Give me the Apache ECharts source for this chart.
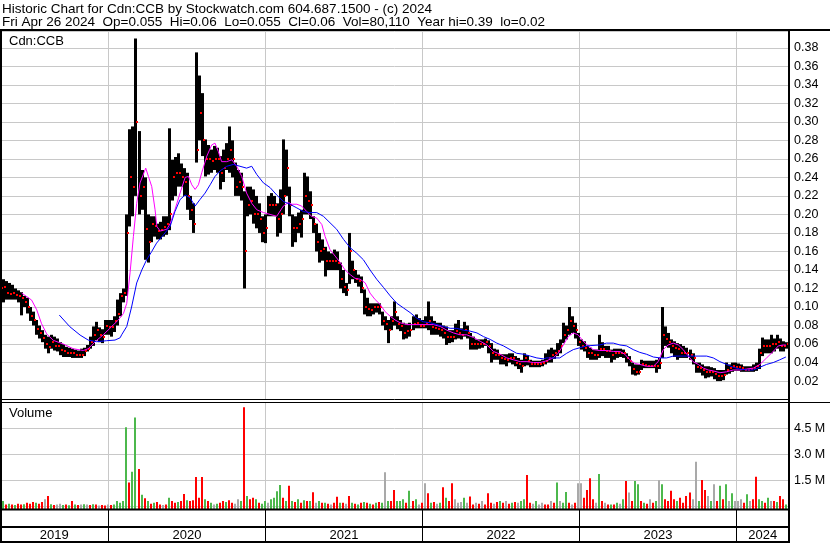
<!DOCTYPE html>
<html>
<head>
<meta charset="utf-8">
<script src="https://cdn.jsdelivr.net/npm/echarts@6/dist/echarts.min.js"></script>
<style>
html, body { margin: 0; padding: 0; background: #fff; }
#main { width: 830px; height: 543px; }
</style>
</head>
<body>
<div id="main"></div>
<script>
// weekly bars, first bar Fri Apr 26 2019
var startDate = Date.UTC(2019, 3, 26);
var DAY = 86400000;
var years = [2019, 2020, 2021, 2022, 2023, 2024];

var lows = [
  0.095,0.105,0.108,0.108,0.108,0.108,0.105,0.091,0.1,0.093,
  0.085,0.08,0.07,0.066,0.062,0.055,0.05,0.055,0.053,0.052,
  0.048,0.046,0.046,0.046,0.045,0.045,0.045,0.045,0.047,0.052,
  0.055,0.058,0.064,0.062,0.061,0.07,0.07,0.068,0.073,0.08,
  0.09,0.105,0.112,0.187,0.198,0.22,0.2,0.205,0.151,0.148,
  0.17,0.176,0.173,0.173,0.176,0.178,0.183,0.215,0.22,0.23,
  0.23,0.22,0.205,0.194,0.18,0.256,0.28,0.263,0.241,0.243,
  0.245,0.248,0.245,0.227,0.235,0.248,0.245,0.24,0.22,0.22,
  0.215,0.12,0.198,0.2,0.19,0.185,0.18,0.17,0.169,0.198,
  0.198,0.198,0.176,0.18,0.2,0.22,0.198,0.165,0.17,0.18,
  0.175,0.2,0.2,0.195,0.18,0.16,0.148,0.15,0.133,0.14,
  0.14,0.14,0.14,0.12,0.115,0.112,0.125,0.13,0.126,0.122,
  0.115,0.092,0.09,0.09,0.092,0.094,0.092,0.08,0.075,0.061,
  0.075,0.08,0.076,0.074,0.065,0.066,0.068,0.075,0.077,0.077,
  0.077,0.077,0.075,0.07,0.07,0.07,0.068,0.066,0.059,0.061,
  0.062,0.065,0.066,0.065,0.068,0.066,0.054,0.054,0.054,0.055,
  0.056,0.058,0.05,0.04,0.043,0.043,0.038,0.038,0.036,0.04,
  0.038,0.036,0.033,0.029,0.036,0.037,0.035,0.035,0.035,0.035,
  0.036,0.038,0.04,0.04,0.044,0.047,0.05,0.061,0.065,0.07,
  0.072,0.066,0.058,0.054,0.052,0.045,0.043,0.043,0.043,0.045,
  0.047,0.045,0.045,0.04,0.043,0.045,0.046,0.045,0.04,0.036,
  0.027,0.026,0.027,0.032,0.034,0.034,0.034,0.034,0.029,0.033,
  0.045,0.058,0.056,0.05,0.046,0.043,0.045,0.045,0.045,0.043,
  0.038,0.029,0.029,0.026,0.023,0.024,0.025,0.022,0.02,0.02,
  0.021,0.027,0.028,0.03,0.031,0.031,0.03,0.03,0.03,0.03,
  0.03,0.031,0.033,0.047,0.05,0.05,0.05,0.052,0.055,0.052,
  0.052,0.055
];
var highs = [
  0.141,0.13,0.128,0.126,0.124,0.12,0.118,0.116,0.112,0.11,
  0.1,0.095,0.086,0.08,0.075,0.07,0.068,0.07,0.068,0.066,
  0.062,0.06,0.057,0.056,0.055,0.054,0.053,0.055,0.056,0.059,
  0.068,0.079,0.084,0.078,0.076,0.086,0.086,0.086,0.09,0.108,
  0.115,0.12,0.2,0.292,0.295,0.39,0.29,0.248,0.24,0.2,
  0.198,0.198,0.19,0.192,0.198,0.198,0.293,0.259,0.262,0.266,
  0.255,0.25,0.245,0.22,0.212,0.375,0.35,0.331,0.281,0.275,
  0.27,0.274,0.272,0.263,0.27,0.277,0.295,0.28,0.256,0.248,
  0.245,0.225,0.23,0.23,0.227,0.22,0.212,0.198,0.2,0.22,
  0.223,0.22,0.212,0.227,0.281,0.27,0.23,0.2,0.198,0.202,
  0.205,0.245,0.241,0.225,0.198,0.19,0.18,0.173,0.165,0.16,
  0.158,0.162,0.16,0.148,0.14,0.126,0.18,0.15,0.14,0.135,
  0.133,0.119,0.11,0.104,0.104,0.104,0.104,0.095,0.09,0.086,
  0.09,0.106,0.09,0.086,0.083,0.082,0.083,0.09,0.092,0.088,
  0.086,0.09,0.106,0.09,0.085,0.083,0.083,0.08,0.079,0.075,
  0.075,0.082,0.086,0.077,0.084,0.08,0.072,0.068,0.065,0.065,
  0.065,0.066,0.064,0.061,0.055,0.054,0.049,0.049,0.049,0.05,
  0.05,0.047,0.045,0.043,0.05,0.048,0.043,0.042,0.042,0.042,
  0.043,0.05,0.054,0.056,0.054,0.061,0.065,0.083,0.08,0.1,
  0.09,0.083,0.072,0.065,0.063,0.058,0.056,0.054,0.054,0.07,
  0.062,0.058,0.058,0.054,0.055,0.055,0.055,0.054,0.05,0.047,
  0.04,0.038,0.038,0.043,0.042,0.042,0.042,0.042,0.043,0.045,
  0.1,0.079,0.072,0.065,0.063,0.061,0.06,0.058,0.056,0.054,
  0.05,0.04,0.04,0.038,0.036,0.036,0.035,0.034,0.032,0.032,
  0.032,0.04,0.038,0.04,0.04,0.039,0.038,0.036,0.036,0.036,
  0.038,0.04,0.055,0.067,0.065,0.065,0.07,0.066,0.07,0.066,
  0.063,0.062
];
var closes = [
  0.12,0.122,0.115,0.114,0.115,0.113,0.112,0.11,0.105,0.1,
  0.09,0.086,0.076,0.072,0.066,0.06,0.057,0.062,0.058,0.058,
  0.054,0.052,0.05,0.05,0.05,0.048,0.048,0.048,0.052,0.055,
  0.062,0.07,0.075,0.07,0.068,0.08,0.078,0.078,0.085,0.092,
  0.112,0.115,0.18,0.24,0.23,0.3,0.22,0.23,0.184,0.17,
  0.19,0.188,0.182,0.183,0.186,0.19,0.2,0.24,0.245,0.245,
  0.24,0.235,0.22,0.205,0.19,0.27,0.31,0.28,0.26,0.26,
  0.258,0.26,0.26,0.245,0.25,0.26,0.27,0.26,0.23,0.235,
  0.23,0.16,0.21,0.215,0.2,0.2,0.195,0.18,0.185,0.21,
  0.21,0.21,0.195,0.2,0.22,0.25,0.21,0.185,0.185,0.19,
  0.195,0.22,0.215,0.21,0.19,0.17,0.16,0.163,0.15,0.15,
  0.15,0.15,0.148,0.13,0.122,0.118,0.16,0.14,0.13,0.128,
  0.12,0.1,0.098,0.097,0.1,0.1,0.1,0.085,0.082,0.075,
  0.085,0.095,0.082,0.08,0.072,0.074,0.075,0.082,0.083,0.08,
  0.08,0.083,0.085,0.078,0.077,0.076,0.075,0.072,0.068,0.068,
  0.068,0.074,0.072,0.07,0.075,0.072,0.06,0.06,0.06,0.06,
  0.06,0.062,0.058,0.05,0.048,0.048,0.045,0.044,0.043,0.045,
  0.045,0.04,0.038,0.036,0.045,0.042,0.038,0.038,0.038,0.038,
  0.04,0.042,0.045,0.048,0.05,0.053,0.058,0.07,0.075,0.085,
  0.08,0.075,0.062,0.058,0.056,0.05,0.05,0.048,0.048,0.055,
  0.055,0.052,0.052,0.048,0.05,0.05,0.05,0.05,0.045,0.042,
  0.033,0.03,0.03,0.038,0.037,0.036,0.036,0.036,0.036,0.04,
  0.07,0.065,0.062,0.058,0.056,0.055,0.05,0.05,0.05,0.048,
  0.045,0.035,0.034,0.032,0.03,0.03,0.03,0.028,0.026,0.026,
  0.027,0.032,0.034,0.036,0.035,0.035,0.034,0.032,0.032,0.033,
  0.034,0.036,0.05,0.058,0.058,0.058,0.06,0.06,0.062,0.058,
  0.058,0.06
];

// volume in millions, direction g = up, r = down, n = unchanged
var volumes = [
  1.1,0.3,0.1,0.15,0.1,0.08,0.15,0.1,0.12,0.2,
  0.15,0.25,0.2,0.15,0.25,0.4,0.6,0.12,0.08,0.1,
  0.15,0.08,0.1,0.06,0.3,0.1,0.08,0.1,0.12,0.1,
  0.08,0.12,0.1,0.05,0.08,0.05,0.1,0.08,0.1,0.3,
  0.2,0.3,4.56,1.37,2.0,5.13,2.15,0.66,0.46,0.3,
  0.15,0.2,0.25,0.1,0.08,0.1,0.5,0.3,0.2,0.25,
  0.3,0.71,0.35,0.3,0.35,1.69,0.5,1.69,0.4,0.3,
  0.2,0.1,0.15,0.2,0.3,0.25,0.35,0.2,0.15,0.4,
  0.3,5.71,0.6,0.4,0.5,0.4,0.2,0.15,0.3,0.2,
  0.4,0.5,0.87,1.23,0.5,0.3,1.19,0.3,0.25,0.4,
  0.2,0.35,0.3,0.3,0.81,0.2,0.3,0.2,0.2,0.15,
  0.1,0.2,0.55,0.2,0.2,0.15,0.6,0.2,0.15,0.1,
  0.2,0.25,0.2,0.15,0.1,0.2,0.25,0.2,1.96,0.3,
  0.3,0.94,0.3,0.3,0.4,0.2,0.9,0.3,0.4,0.1,
  0.2,1.33,0.75,0.2,0.25,0.15,0.2,1.1,0.5,0.3,
  1.33,0.4,0.2,0.25,0.5,0.2,0.56,0.1,0.2,0.15,
  0.3,0.1,0.75,0.2,0.15,0.25,0.3,0.2,0.3,0.15,
  0.2,0.25,0.2,0.3,0.4,1.81,0.2,0.15,0.3,0.1,
  0.2,0.1,0.1,0.3,0.2,1.38,0.3,0.2,0.83,0.2,
  0.1,0.2,1.33,1.33,0.5,0.94,1.62,0.4,0.2,1.86,
  0.3,0.2,0.1,0.1,0.1,0.2,0.15,0.4,1.46,0.8,
  0.3,1.46,1.27,0.3,0.2,0.15,0.4,0.2,0.3,1.5,
  1.27,0.4,0.3,0.9,0.4,0.3,0.5,0.2,0.6,0.8,
  0.4,2.57,0.3,1.52,0.94,0.6,0.3,1.27,0.3,1.18,
  0.4,1.27,0.3,0.75,0.3,0.3,0.4,0.2,0.7,0.3,
  0.4,1.71,0.4,0.3,0.2,0.5,0.3,0.3,0.25,0.6,
  0.4,0.1
];
var volDir = (
  'rgrgrgrrgr' + 'rrgrrnrgrn' + 'ngrgrgrngn' + 'rgrnrrnrgg' +
  'gggrggrgrg' + 'rgrrnrgrrg' + 'rrgrrrrrgr' + 'gngrrgrrnn' +
  'grgrrgrggn' + 'ggggrgrgrg' + 'rgrgrngrgr' + 'nrrgrnrgrg' +
  'rgrgrgrgng' + 'rrgggrgrgn' + 'rnrgrngrgr' + 'rnnngnrrnr' +
  'nrrrnrgrnr' + 'grnggrrngn' + 'nrrnrgnggr' + 'nrnnrrrrng' +
  'rnrgrgngrn' + 'rggrgrnrgn' + 'grrrrgrrrr' + 'nngrrngnrg' +
  'rgngnnnrgn' + 'rrggrgnrgr' + 'rg'
).split('');

// moving averages: [week position, value]
var maFast = [
  [7.2,0.115],[10.5,0.1075],[12.2,0.097],[13.8,0.082],[15.5,0.071],[17.7,0.064],[21,0.06],
  [24.3,0.055],[27.7,0.053],[29.3,0.055],[32.1,0.064],[34.3,0.07],[36.5,0.077],[39.3,0.086],
  [41,0.093],[42.1,0.104],[43.2,0.137],[44.3,0.176],[45.4,0.212],[46.5,0.234],[48.4,0.25],
  [49.3,0.241],[50.4,0.23],[51.5,0.205],[52.1,0.187],[53.2,0.182],[55.4,0.184],[56.5,0.19],
  [58.1,0.205],[59.8,0.223],[61.5,0.24],[62.6,0.241],[63.7,0.232],[64.8,0.227],[65.9,0.232],
  [67,0.245],[68.7,0.263],[70.3,0.275],[71.4,0.277],[72.5,0.268],[73.6,0.257],[75.3,0.257],
  [77,0.259],[78.6,0.252],[80.3,0.241],[81.9,0.223],[83.6,0.212],[85.3,0.205],[87.5,0.202],
  [89.7,0.2],[91.9,0.198],[94.1,0.209],[95.8,0.213],[96.9,0.211],[98.6,0.211],[100.2,0.209],
  [101.9,0.203],[103.5,0.198],[105.2,0.196],[106.9,0.189],[108,0.176],[109.6,0.162],
  [111.3,0.155],[113,0.148],[114.6,0.14],[116.3,0.135],[117.9,0.131],[119.6,0.13],
  [121.3,0.126],[122.9,0.115],[124.6,0.108],[126.2,0.103],[127.9,0.095],[129.6,0.09],
  [131.2,0.086],[132.9,0.083],[135.1,0.081],[139.5,0.081],[144,0.081],[146.2,0.079],
  [148.4,0.075],[150.6,0.072],[152.8,0.07],[155,0.07],[157.3,0.067],[159.5,0.063],
  [161.7,0.059],[163.9,0.052],[166.1,0.049],[168.3,0.045],[170.5,0.043],[172.8,0.041],
  [175,0.041],[177.2,0.04],[179.4,0.04],[181.6,0.042],[183.7,0.045],[185.4,0.05],
  [187.1,0.059],[188.7,0.068],[190.4,0.072],[192,0.07],[193.7,0.063],[195.4,0.058],
  [197,0.054],[199.2,0.053],[201.4,0.053],[203.7,0.052],[205.9,0.052],[207.5,0.049],
  [209.2,0.043],[210.9,0.039],[212.5,0.038],[214.7,0.036],[217,0.036],[218.6,0.041],
  [220.3,0.054],[221.9,0.059],[223.6,0.061],[225.3,0.059],[226.9,0.054],[228.6,0.047],
  [230.2,0.041],[231.9,0.038],[233.6,0.034],[235.2,0.032],[236.9,0.031],[239.1,0.029],
  [241.3,0.03],[243.5,0.032],[245.7,0.032],[248,0.033],[250.2,0.034],[252.4,0.038],
  [254.6,0.045],[256.8,0.052],[258.5,0.058],[260.1,0.059],[261,0.059]
];
var maSlow = [
  [19.7,0.0913],[23.2,0.0787],[26.6,0.0697],[29.3,0.0643],[32.1,0.0625],[35.4,0.0636],
  [38.2,0.0643],[39.9,0.0668],[40.4,0.07],[42.1,0.079],[43.7,0.1],[45.4,0.126],[47.1,0.14],
  [48.7,0.151],[50.4,0.16],[52,0.169],[54.3,0.178],[56.5,0.187],[58.1,0.203],[59.8,0.216],
  [61.5,0.221],[63.1,0.218],[64.8,0.209],[66.4,0.216],[68.1,0.223],[69.8,0.232],[71.4,0.241],
  [73.1,0.247],[75.3,0.252],[77.5,0.254],[79.7,0.252],[81.9,0.25],[83.6,0.252],[85.3,0.243],
  [87.5,0.234],[89.7,0.229],[91.9,0.221],[94.1,0.214],[96.3,0.211],[98.6,0.207],
  [100.8,0.203],[103,0.202],[105.2,0.202],[107.4,0.198],[109.6,0.191],[111.8,0.184],
  [114.1,0.173],[116.3,0.164],[118.5,0.158],[120.7,0.151],[122.9,0.14],[125.1,0.13],
  [127.4,0.121],[129.6,0.112],[131.8,0.104],[134,0.099],[136.2,0.094],[138.4,0.088],
  [140.6,0.084],[142.9,0.083],[145.1,0.081],[147.3,0.079],[149.5,0.077],[151.7,0.077],
  [153.9,0.075],[156.1,0.074],[158.4,0.072],[160.6,0.068],[162.8,0.065],[165,0.061],
  [167.2,0.058],[169.4,0.054],[171.6,0.05],[173.9,0.049],[176.1,0.047],[178.3,0.045],
  [180.5,0.044],[181.5,0.045],[185.9,0.045],[188.2,0.05],[190.4,0.054],[192.6,0.056],
  [194.8,0.058],[199.2,0.059],[201.4,0.061],[203.7,0.061],[205.9,0.059],[208.1,0.058],
  [210.3,0.054],[212.5,0.051],[214.7,0.049],[217,0.046],[219.2,0.045],[221.4,0.045],
  [223.6,0.047],[228,0.047],[232.5,0.047],[234.7,0.047],[236.9,0.045],[239.1,0.041],
  [241.3,0.038],[243.5,0.035],[245.7,0.033],[248,0.032],[250.2,0.032],[252.4,0.035],
  [254.6,0.038],[256.8,0.04],[259,0.043],[261,0.046]
];

var headerLine1 = 'Historic Chart for Cdn:CCB by Stockwatch.com 604.687.1500 - (c) 2024';
var headerLine2 = 'Fri Apr 26 2024  Op=0.055  Hi=0.06  Lo=0.055  Cl=0.06  Vol=80,110  Year hi=0.39  lo=0.02';

var FONT = 'Liberation Sans, Arial, sans-serif';
var colors = { g: '#4cb84c', r: '#ff0000', n: '#a9a9a9' };

function weekTime(w) { return startDate + w * 7 * DAY; }

var xMin = startDate;
var xMax = startDate + 1834.3 * DAY;

var barData = closes.map(function (c, i) {
  return [weekTime(i), lows[i], highs[i], c];
});
var volData = volumes.map(function (v, i) {
  return [weekTime(i), v];
});
var volFloor = -0.15;

function renderBar(params, api) {
  var t = api.value(0);
  var pLo = api.coord([t, api.value(1)]);
  var pHi = api.coord([t, api.value(2)]);
  var x = Math.round(pLo[0]);
  return {
    type: 'rect',
    shape: { x: x - 1, y: pHi[1], width: 3, height: Math.max(1, pLo[1] - pHi[1]) },
    style: { fill: '#000' }
  };
}

function renderTick(params, api) {
  var t = api.value(0);
  var pC = api.coord([t, api.value(3)]);
  var x = Math.round(pC[0]);
  return {
    type: 'rect',
    shape: { x: x + 1, y: Math.round(pC[1]) - 1, width: 2, height: 2 },
    style: { fill: '#ff0000' }
  };
}

function renderVol(params, api) {
  var t = api.value(0);
  var top = api.coord([t, api.value(1)]);
  var base = api.coord([t, volFloor]);
  var x = Math.round(top[0]);
  return {
    type: 'rect',
    shape: { x: x - 1, y: top[1], width: 2, height: base[1] - top[1] },
    style: { fill: colors[volDir[params.dataIndex]] }
  };
}

var chart = echarts.init(document.getElementById('main'), null, { renderer: 'canvas' });

var option = {
  animation: false,
  backgroundColor: '#fff',
  textStyle: { fontFamily: FONT },
  grid: [
    { left: 0, right: 41, top: 31, height: 368.6 },
    { left: 0, right: 41, top: 402.3, height: 104 }
  ],
  xAxis: [
    { type: 'time', gridIndex: 0, min: xMin, max: xMax, show: false },
    { type: 'time', gridIndex: 1, min: xMin, max: xMax, show: false }
  ],
  yAxis: [
    {
      type: 'value', gridIndex: 0, position: 'right',
      min: 0, max: 0.3981, interval: 0.02,
      axisLine: { show: false }, axisTick: { show: false },
      axisLabel: {
        margin: 5, color: '#000', fontSize: 12.5, fontFamily: FONT,
        showMinLabel: false, showMaxLabel: false,
        formatter: function (v) { return v.toFixed(2); }
      },
      splitLine: { lineStyle: { color: '#c8c8c8', width: 1 } }
    },
    {
      type: 'value', gridIndex: 1, position: 'right',
      min: 0, max: 6, interval: 1.5,
      axisLine: { show: false }, axisTick: { show: false },
      axisLabel: {
        margin: 5, color: '#000', fontSize: 12.5, fontFamily: FONT,
        showMinLabel: false, showMaxLabel: false,
        formatter: function (v) { return v.toFixed(1) + ' M'; }
      },
      splitLine: { lineStyle: { color: '#c8c8c8', width: 1 } }
    }
  ],
  series: [
    {
      type: 'custom', name: 'price', xAxisIndex: 0, yAxisIndex: 0,
      renderItem: renderBar, data: barData, encode: { x: 0, y: [1, 2] }, z: 3
    },
    {
      type: 'custom', name: 'close', xAxisIndex: 0, yAxisIndex: 0,
      renderItem: renderTick, data: barData, encode: { x: 0, y: 3 }, z: 4
    },
    {
      type: 'line', name: 'maFast', xAxisIndex: 0, yAxisIndex: 0, z: 5,
      data: maFast.map(function (p) { return [weekTime(p[0]), p[1]]; }),
      showSymbol: false, symbol: 'none', smooth: false,
      lineStyle: { color: '#ff00ff', width: 1 }
    },
    {
      type: 'line', name: 'maSlow', xAxisIndex: 0, yAxisIndex: 0, z: 5,
      data: maSlow.map(function (p) { return [weekTime(p[0]), p[1]]; }),
      showSymbol: false, symbol: 'none', smooth: false,
      lineStyle: { color: '#0000ff', width: 1 }
    },
    {
      type: 'custom', name: 'volume', xAxisIndex: 1, yAxisIndex: 1,
      renderItem: renderVol, data: volData, encode: { x: 0, y: 1 }, z: 3
    }
  ]
};
chart.setOption(option);

// frame, year dividers and labels placed through the time scale
var g = [];
function hline(y, x1, x2, w) {
  g.push({ type: 'line', z: 50, shape: { x1: x1, y1: y, x2: x2, y2: y }, style: { stroke: '#000', lineWidth: w } });
}
function vline(x, y1, y2, w, c, z) {
  g.push({ type: 'line', z: z, shape: { x1: x, y1: y1, x2: x, y2: y2 }, style: { stroke: c, lineWidth: w } });
}
var xs = years.slice(1).map(function (yr) {
  return Math.round(chart.convertToPixel({ xAxisIndex: 0 }, Date.UTC(yr, 0, 1))) + 0.5;
});
var xLeft = 0, xRight = 789;
xs.forEach(function (x) {
  vline(x, 31, 399, 1, '#c8c8c8', 1);
  vline(x, 403, 509, 1, '#c8c8c8', 1);
  vline(x, 510, 543, 1, '#000', 50);
});
var bounds = [xLeft].concat(xs).concat([xRight]);
years.forEach(function (yr, i) {
  g.push({
    type: 'text', z: 50,
    x: (bounds[i] + bounds[i + 1]) / 2, y: 535.5,
    style: { text: String(yr), fill: '#000', font: '13px ' + FONT, textAlign: 'center', textVerticalAlign: 'middle' }
  });
});
hline(30, 0, 830, 2);
hline(399.5, 0, 789, 1);
hline(402.5, 0, 830, 1);
hline(509.5, 0, 789, 2);
hline(527, 0, 789, 2);
hline(542, 0, 789, 2);
vline(1, 29, 543, 2, '#000', 50);
vline(789, 29, 543, 2, '#000', 50);

function label(text, x, y, size) {
  g.push({
    type: 'text', z: 50, x: x, y: y,
    style: { text: text, fill: '#000', font: size + 'px ' + FONT, textAlign: 'left', textVerticalAlign: 'middle' }
  });
}
label(headerLine1, 2, 9.2, 13.5);
label(headerLine2, 2, 22.2, 13.5);
label('Cdn:CCB', 9, 41.2, 13);
label('Volume', 9, 413.2, 13);

chart.setOption({ graphic: g });
</script>
</body>
</html>
